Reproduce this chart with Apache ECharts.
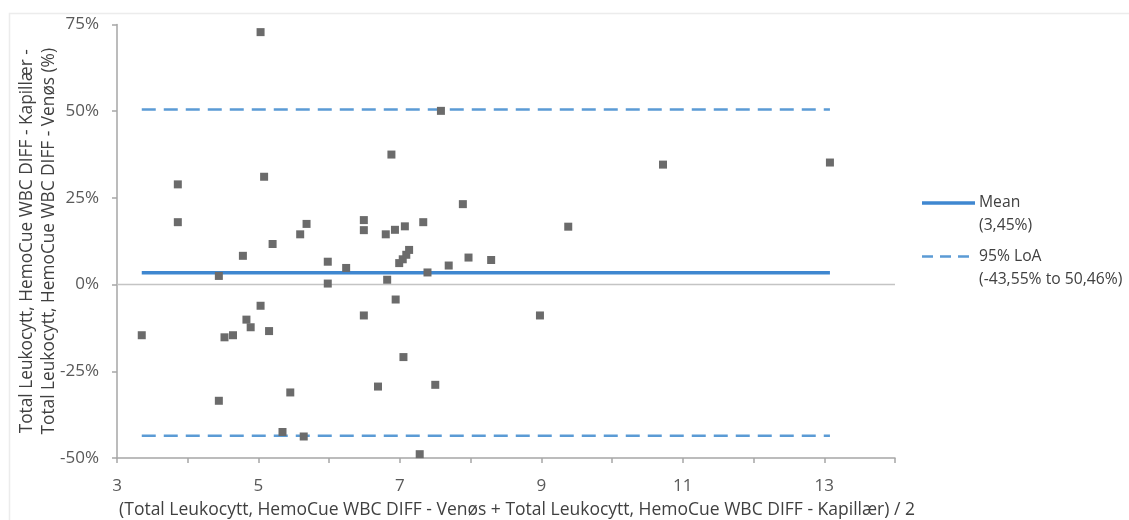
<!DOCTYPE html>
<html>
<head>
<meta charset="utf-8">
<title>Bland-Altman: Total Leukocytt</title>
<script src="https://cdn.jsdelivr.net/npm/echarts@6/dist/echarts.min.js"></script>
<style>
  html, body { margin: 0; padding: 0; background: #ffffff; }
  #chart { width: 1129px; height: 520px; }
</style>
</head>
<body>
<div id="chart"></div>
<script>
// Mean of the two methods (x) and relative difference in percent (y)
const meanValues = [
  5.03, 3.86, 5.08, 6.88, 3.86, 5.68, 5.59, 6.49, 6.49, 6.80,
  6.93, 7.07, 5.20, 4.78, 5.98, 6.24, 4.44, 5.98, 6.82, 6.99,
  7.04, 7.09, 7.13, 6.94, 5.03, 4.83, 4.89, 5.15, 3.35, 4.52,
  4.64, 6.49, 7.05, 6.69, 5.45, 4.44, 5.34, 5.64, 7.39, 7.69,
  7.97, 8.29, 8.98, 7.50, 7.28, 7.58, 10.72, 7.89, 7.33, 9.38,
  13.08
];
const diffPercent = [
  72.8, 28.9, 31.1, 37.5, 18.0, 17.5, 14.5, 18.6, 15.7, 14.5,
  15.8, 16.8, 11.7, 8.3, 6.6, 4.8, 2.5, 0.3, 1.4, 6.2,
  7.3, 8.6, 10.0, -4.3, -6.1, -10.1, -12.3, -13.4, -14.6, -15.2,
  -14.6, -8.9, -20.9, -29.4, -31.1, -33.5, -42.5, -43.8, 3.5, 5.5,
  7.8, 7.1, -8.9, -28.9, -48.9, 50.1, 34.6, 23.2, 18.0, 16.7,
  35.2
];

// Summary statistics
const meanDiff = 3.45;
const loaLower = -43.55;
const loaUpper = 50.46;

// Axis ranges and labels
const xMin = 3, xMax = 14, xStep = 1;
const yMin = -50, yMax = 75, yStep = 25;

const xTitle = '(Total Leukocytt, HemoCue WBC DIFF - Venøs + Total Leukocytt, HemoCue WBC DIFF - Kapillær) / 2';
const yTitleLines = [
  'Total Leukocytt, HemoCue WBC DIFF - Kapillær -',
  'Total Leukocytt, HemoCue WBC DIFF - Venøs (%)'
];
const legendMean = ['Mean', '(3,45%)'];
const legendLoa = ['95% LoA', '(-43,55% to 50,46%)'];

const FONT = '"Open Sans", Lato, sans-serif';
const LABEL_COLOR = '#595959';
const TITLE_COLOR = '#404040';
const BLUE_SOLID = '#3f87d0';
const BLUE_DASH = '#5b9bd5';

const points = meanValues.map((x, i) => [x, diffPercent[i]]);
const xLo = Math.min(...meanValues);
const xHi = Math.max(...meanValues);
const hLine = (v) => [[xLo, v], [xHi, v]];

const chart = echarts.init(document.getElementById('chart'), null, { renderer: 'canvas' });

const option = {
  backgroundColor: '#ffffff',
  animation: false,
  textStyle: { fontFamily: FONT },
  grid: { left: 117, top: 24.5, right: 234, bottom: 62, containLabel: false, outerBoundsMode: 'none' },
  xAxis: {
    type: 'value',
    min: xMin, max: xMax, interval: xStep,
    name: xTitle,
    nameLocation: 'middle',
    nameGap: 43,
    nameMoveOverlap: false,
    nameTextStyle: { color: TITLE_COLOR, fontSize: 17.5, fontFamily: FONT, padding: [0, 0, 0, 22] },
    axisLine: { show: true, onZero: false, lineStyle: { color: '#a6a6a6', width: 1.5 } },
    axisTick: { show: true, inside: false, length: 5, lineStyle: { color: '#a6a6a6', width: 1.5 } },
    axisLabel: {
      color: LABEL_COLOR, fontSize: 17, fontFamily: FONT, margin: 20,
      formatter: (v) => ((Math.round(v) - xMin) % 2 === 0 && v < xMax ? String(v) : '')
    },
    splitLine: { show: false }
  },
  yAxis: {
    type: 'value',
    min: yMin, max: yMax, interval: yStep,
    name: yTitleLines.join('\n'),
    nameLocation: 'middle',
    nameRotate: 90,
    nameGap: 57,
    nameMoveOverlap: false,
    nameTextStyle: { color: TITLE_COLOR, fontSize: 17.3, fontFamily: FONT, lineHeight: 22 },
    axisLine: { show: true, onZero: false, lineStyle: { color: '#a6a6a6', width: 1.5 } },
    axisTick: { show: true, inside: false, length: 5, lineStyle: { color: '#a6a6a6', width: 1.5 } },
    axisLabel: { color: LABEL_COLOR, fontSize: 17, fontFamily: FONT, margin: 18, formatter: (v) => v + '%' },
    splitLine: { show: false }
  },
  series: [
    {
      name: 'Zero',
      type: 'line',
      data: [[xMin, 0], [xMax, 0]],
      symbol: 'none',
      silent: true,
      lineStyle: { color: '#c4c4c4', width: 1.5 },
      z: 1
    },
    {
      name: '95% LoA',
      type: 'line',
      data: hLine(loaUpper),
      symbol: 'none',
      lineStyle: { color: BLUE_DASH, width: 2.5, type: [14, 8] },
      z: 2
    },
    {
      name: '95% LoA ',
      type: 'line',
      data: hLine(loaLower),
      symbol: 'none',
      lineStyle: { color: BLUE_DASH, width: 2.5, type: [14, 8] },
      z: 2
    },
    {
      name: 'Mean',
      type: 'line',
      data: hLine(meanDiff),
      symbol: 'none',
      lineStyle: { color: BLUE_SOLID, width: 3.5 },
      z: 2
    },
    {
      name: 'Differences',
      type: 'scatter',
      data: points,
      symbol: 'rect',
      symbolSize: 8,
      itemStyle: { color: '#6b6b6b', opacity: 1 },
      z: 5
    }
  ],
  graphic: [
    // chart area frame
    {
      type: 'rect',
      shape: { x: 9.5, y: 13.5, width: 1140, height: 540 },
      style: { fill: 'none', stroke: '#ececec', lineWidth: 1.5 },
      silent: true
    },
    // legend: mean
    {
      type: 'line',
      shape: { x1: 922, y1: 203, x2: 975, y2: 203 },
      style: { stroke: BLUE_SOLID, lineWidth: 3.5 }
    },
    {
      type: 'text', left: 979, top: 191.5,
      style: { text: legendMean.join('\n'), font: '15.7px ' + FONT, fill: TITLE_COLOR, lineHeight: 23 }
    },
    // legend: limits of agreement
    {
      type: 'line',
      shape: { x1: 922, y1: 256.5, x2: 975, y2: 256.5 },
      style: { stroke: BLUE_DASH, lineWidth: 2.5, lineDash: [11, 7] }
    },
    {
      type: 'text', left: 979, top: 245,
      style: { text: legendLoa.join('\n'), font: '15.7px ' + FONT, fill: TITLE_COLOR, lineHeight: 23 }
    }
  ]
};

chart.setOption(option);
</script>
</body>
</html>
